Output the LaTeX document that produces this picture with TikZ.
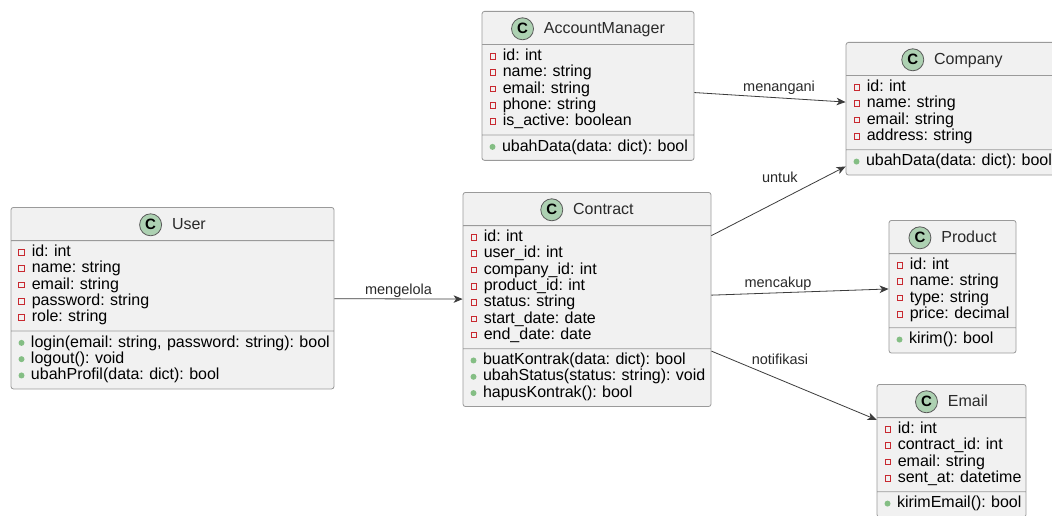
\documentclass[tikz,border=0pt]{standalone}
\usepackage{fontspec}
\setmainfont{Liberation Sans}
\usetikzlibrary{shapes.multipart, arrows.meta}
\frenchspacing

\definecolor{classbg}{HTML}{F1F1F1}
\definecolor{classborder}{HTML}{9A9A9A}
\definecolor{textdark}{HTML}{2A2A2A}
\definecolor{linedark}{HTML}{3C3C3C}
\definecolor{privred}{HTML}{C82930}
\definecolor{pubgreen}{HTML}{84BE84}
\definecolor{iconfill}{HTML}{ADD1B2}
\definecolor{iconborder}{HTML}{5A5A5A}

% fixed 16.3pt rows, even where glyphs are taller than the strut
\newcommand{\membersize}{\fontsize{16}{16.3}\selectfont\lineskiplimit=-20pt}
\newcommand{\labelsize}{\fontsize{14.5}{16}\selectfont}

% member markers: hollow red square for fields, green dot for operations
\newcommand{\privmark}{\tikz[baseline=0pt]\draw[privred, line width=0.8pt, fill=none, sharp corners] (0pt,1.5pt) rectangle (5.5pt,7pt);}
\newcommand{\pubmark}{\tikz[baseline=0pt]\fill[pubgreen, draw=none] (3pt,4.2pt) circle[radius=3pt];}
\newcommand{\fieldrow}[1]{\mbox{\hspace*{2.5pt}\privmark\hspace{7pt}#1}\strut}
\newcommand{\methodrow}[1]{\mbox{\hspace*{2.5pt}\pubmark\hspace{6.5pt}#1}\strut}

% green "C" badge in front of the class name
\newcommand{\classicon}{\tikz[baseline={([yshift=-5pt]ci.center)}]\node[shape=circle, draw=iconborder, fill=iconfill, line width=0.8pt, minimum size=22pt, inner sep=0pt, text width={}, anchor=center, text=black, font=\fontsize{15}{15}\selectfont\bfseries] (ci) {C};}
\newcommand{\classhead}[1]{\makebox[\linewidth][c]{\classicon\hspace{10pt}#1}\rule[-6pt]{0pt}{24pt}}

\tikzset{
    umlclass/.style={
        rectangle split,
        rectangle split parts=3,
        draw=classborder,
        fill=classbg,
        line width=0.8pt,
        rounded corners=2.5pt,
        inner xsep=5pt,
        inner ysep=4pt,
        align=left,
        anchor=north,
        font=\membersize,
        text=textdark
    },
    assoc/.style={->, draw=linedark, line width=0.8pt},
    assoclabel/.style={font=\labelsize, text=textdark, inner sep=1pt}
}

\begin{document}
\begin{tikzpicture}[x=1pt, y=-1pt, >={Stealth[length=9pt, width=7.5pt, inset=2.5pt]}]

\useasboundingbox[fill=white] (0,0) rectangle (1052,516);

% Classes
\node[umlclass, text width=313pt] (user) at (172.5,207) {%
    \classhead{User}%
    \nodepart{second}%
    \fieldrow{id: int}\\
    \fieldrow{name: string}\\
    \fieldrow{email: string}\\
    \fieldrow{password: string}\\
    \fieldrow{role: string}%
    \nodepart{third}%
    \methodrow{login(email: string, password: string): bool}\\
    \methodrow{logout(): void}\\
    \methodrow{ubahProfil(data: dict): bool}%
};

\node[umlclass, text width=238pt] (contract) at (587,192) {%
    \classhead{Contract}%
    \nodepart{second}%
    \fieldrow{id: int}\\
    \fieldrow{user\_id: int}\\
    \fieldrow{company\_id: int}\\
    \fieldrow{product\_id: int}\\
    \fieldrow{status: string}\\
    \fieldrow{start\_date: date}\\
    \fieldrow{end\_date: date}%
    \nodepart{third}%
    \methodrow{buatKontrak(data: dict): bool}\\
    \methodrow{ubahStatus(status: string): void}\\
    \methodrow{hapusKontrak(): bool}%
};

\node[umlclass, text width=202pt] (accountmanager) at (588,11) {%
    \classhead{AccountManager}%
    \nodepart{second}%
    \fieldrow{id: int}\\
    \fieldrow{name: string}\\
    \fieldrow{email: string}\\
    \fieldrow{phone: string}\\
    \fieldrow{is\_active: boolean}%
    \nodepart{third}%
    \methodrow{ubahData(data: dict): bool}%
};

\node[umlclass, text width=202pt] (company) at (952,42) {%
    \classhead{Company}%
    \nodepart{second}%
    \fieldrow{id: int}\\
    \fieldrow{name: string}\\
    \fieldrow{email: string}\\
    \fieldrow{address: string}%
    \nodepart{third}%
    \methodrow{ubahData(data: dict): bool}%
};

\node[umlclass, text width=117pt] (product) at (952.5,220) {%
    \classhead{Product}%
    \nodepart{second}%
    \fieldrow{id: int}\\
    \fieldrow{name: string}\\
    \fieldrow{type: string}\\
    \fieldrow{price: decimal}%
    \nodepart{third}%
    \methodrow{kirim(): bool}%
};

\node[umlclass, text width=139pt] (email) at (951.5,384) {%
    \classhead{Email}%
    \nodepart{second}%
    \fieldrow{id: int}\\
    \fieldrow{contract\_id: int}\\
    \fieldrow{email: string}\\
    \fieldrow{sent\_at: datetime}%
    \nodepart{third}%
    \methodrow{kirimEmail(): bool}%
};

% Associations
\draw[assoc] (user) -- node[assoclabel, above] (lbl-mengelola) {mengelola} (contract);
\draw[assoc] (accountmanager) -- node[assoclabel, above=2pt, pos=0.56] (lbl-menangani) {menangani} (company);
\draw[assoc] (contract) -- node[assoclabel, above=16pt, pos=0.51] (lbl-untuk) {untuk} ([yshift=9pt]company.south west);
\draw[assoc] (contract) -- node[assoclabel, above=1pt, pos=0.376] (lbl-mencakup) {mencakup} (product);
\draw[assoc] (contract) -- node[assoclabel, above=14pt, pos=0.415] (lbl-notifikasi) {notifikasi} (email);

\end{tikzpicture}
\end{document}
